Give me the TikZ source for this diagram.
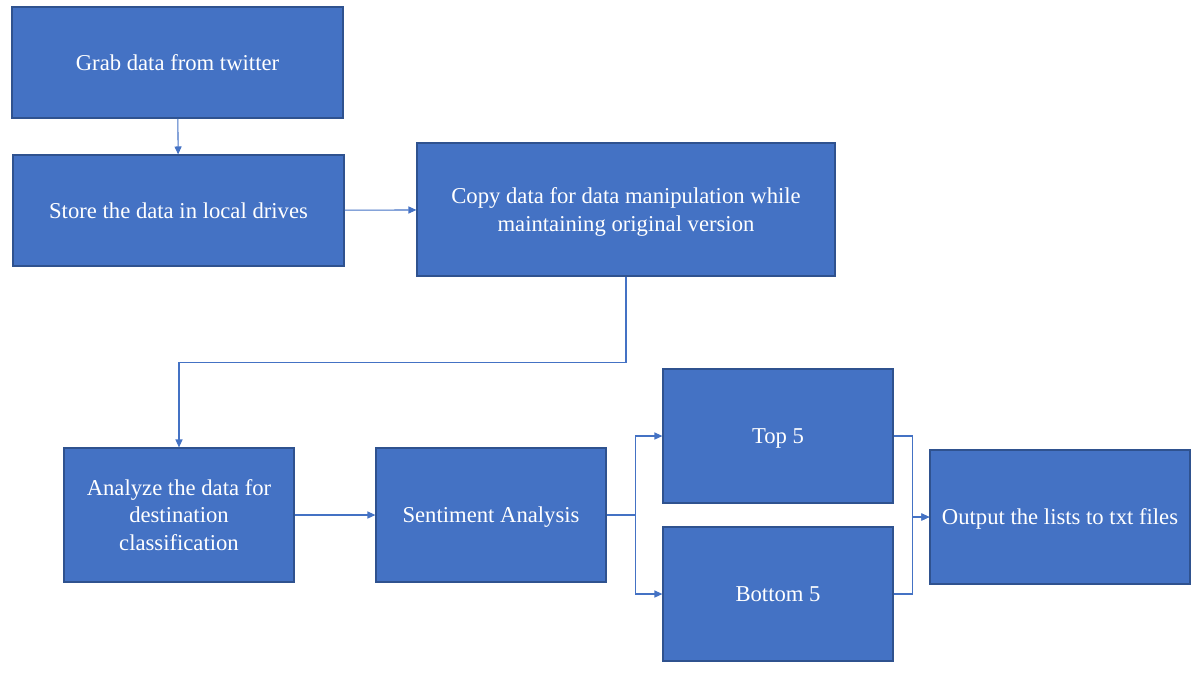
\documentclass[tikz,border=0pt]{standalone}
\usepackage{fontspec}
\setmainfont{Liberation Serif}
\usetikzlibrary{arrows.meta}
\definecolor{boxfill}{HTML}{4472C4}
\definecolor{boxline}{HTML}{2F528F}
\definecolor{linkcol}{HTML}{4472C4}
\begin{document}
\begin{tikzpicture}[
        box/.style = {rectangle, draw=boxline, fill=boxfill, line width=0.7pt,
            text=white, align=center, inner sep=2pt, text depth=0pt,
            font=\fontsize{12.9}{15.8}\selectfont},
        wide/.style = {box, minimum width=6.62cm, minimum height=2.22cm},
        mid/.style = {box, minimum width=4.6cm, minimum height=2.68cm},
        link/.style = {draw=linkcol, line width=0.6pt,
            -{Triangle[length=4.5pt,width=4pt]}}]
        \useasboundingbox (0,0) rectangle (23.96,-13.44);
        % NODES
        % first column
        \node[wide] (grab) at (3.55,-1.25) {Grab data from twitter};
        \node[wide] (store) at (3.57,-4.21) {Store the data in local drives};
        % copy node
        \node[box, minimum width=8.36cm, minimum height=2.66cm] (copy) at (12.52,-4.19)
            {Copy data for data manipulation while\\maintaining original version};
        % lower row
        \node[mid] (analyze) at (3.58,-10.30) {Analyze the data for\\destination\\classification};
        \node[mid] (senti) at (9.82,-10.30) {Sentiment Analysis};
        \node[mid] (top) at (15.56,-8.72) {Top 5};
        \node[mid] (bottom) at (15.56,-11.88) {Bottom 5};
        \node[mid, minimum width=5.2cm] (out) at (21.20,-10.34) {Output the lists to txt files};

        % ARROWS
        \draw[link] (grab) -- (store);
        \draw[link] (store) -- (copy);
        \draw[link] (copy.south) -- ++(0,-1.72) -| (analyze.north);
        \draw[link] (analyze) -- (senti);
        \draw[link] (senti.east) -- ++(0.58,0) |- (top.west);
        \draw[link] (senti.east) -- ++(0.58,0) |- (bottom.west);
        \draw[link] (top.east) -- ++(0.38,0) |- (out.west);
        \draw[link] (bottom.east) -- ++(0.38,0) |- (out.west);
    \end{tikzpicture}
\end{document}
